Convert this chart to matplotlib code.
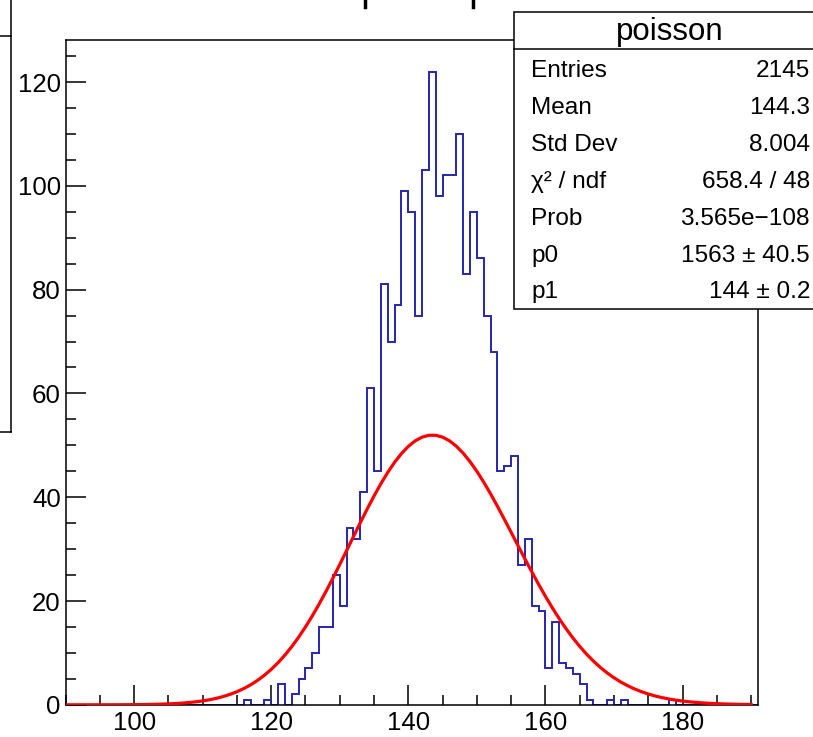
import numpy as np
import matplotlib.pyplot as plt
from matplotlib.ticker import MultipleLocator
from math import lgamma, log, exp

plt.rcParams['font.family'] = ['Liberation Sans', 'DejaVu Sans']

# histogramul "poisson": bini de latime 1, primul bin nenul incepe la 116
first_bin = 116
counts = [1, 0, 0, 1, 0, 4, 0, 2, 5, 7,
          10, 15, 15, 25, 19, 34, 32, 41, 61, 45,
          81, 70, 77, 99, 95, 75, 103, 122, 98, 102,
          102, 110, 83, 95, 86, 75, 68, 45, 46, 48,
          27, 32, 19, 18, 7, 16, 8, 7, 6, 4,
          1, 0, 0, 1, 0, 1, 0, 0, 0, 0,
          0, 0, 1]
x_min, x_max = 90, 191

# parametrii fitului p0 * Poisson(x, p1)
p0 = 1563
p1 = 144
fit_lo, fit_hi = 90, 190

stat_names = ['Entries', 'Mean', 'Std Dev', 'χ² / ndf', 'Prob', 'p0', 'p1']
stat_values = ['2145', '144.3', '8.004', '658.4 / 48', '3.565e\u2212108',
               '1563 \u00b1 40.5', '144 \u00b1 0.2']

W, H = 813, 737


def fx(px):
    return px / W


def fy(py):
    return 1 - py / H


edges = np.arange(x_min, x_max + 1)
values = np.zeros(len(edges) - 1)
values[first_bin - x_min:first_bin - x_min + len(counts)] = counts

xs = np.linspace(fit_lo, fit_hi, 101)
ys = np.array([p0 * exp(x * log(p1) - p1 - lgamma(x + 1)) for x in xs])

fig = plt.figure(figsize=(W / 100, H / 100), dpi=100)
ax = fig.add_axes([fx(65.5), fy(704.8), (758 - 65.5) / W, (704.8 - 40) / H])

ax.stairs(values, edges, color='#2626b0', linewidth=1.4, zorder=2)
ax.plot(xs, ys, color='#ff0000', linewidth=2.3, zorder=3)

ax.set_xlim(x_min, x_max)
ax.set_ylim(0, 1.05 * max(counts))
ax.set_xticks([100, 120, 140, 160, 180])
ax.set_yticks([0, 20, 40, 60, 80, 100, 120])
ax.xaxis.set_minor_locator(MultipleLocator(5))
ax.yaxis.set_minor_locator(MultipleLocator(5))
ax.tick_params(which='both', direction='in', top=False, right=False, width=1.1)
ax.tick_params(which='major', length=14.4, labelsize=18.6)
ax.tick_params(which='minor', length=7.2)
ax.tick_params(axis='x', pad=4.3)
ax.tick_params(axis='y', pad=3.4)
for s in ax.spines.values():
    s.set_linewidth(1.1)

# caseta de statistici (taiata la marginea din dreapta)
box = plt.Rectangle((fx(514), fy(309.3)), (826 - 514) / W, (309.3 - 11.7) / H,
                    transform=fig.transFigure, facecolor='white', edgecolor='black',
                    linewidth=1.1, zorder=5)
fig.add_artist(box)
fig.add_artist(plt.Line2D([fx(514), fx(826)], [fy(49), fy(49)], transform=fig.transFigure,
                          color='black', linewidth=1.1, zorder=6))
fig.text(fx(670), fy(40), 'poisson', ha='center', va='baseline', fontsize=22.5, zorder=7)
for i, (name, val) in enumerate(zip(stat_names, stat_values)):
    yb = fy(77.3 + i * 36.85)
    fig.text(fx(531), yb, name, ha='left', va='baseline', fontsize=17.6, zorder=7)
    fig.text(fx(810), yb, val, ha='right', va='baseline', fontsize=17.6, zorder=7)

# resturi din alte casete / titlu, taiate de marginea imaginii
fig.add_artist(plt.Line2D([fx(11), fx(11)], [fy(0), fy(432)], transform=fig.transFigure,
                          color='black', linewidth=1.1))
fig.add_artist(plt.Line2D([fx(0), fx(11)], [fy(35.7), fy(35.7)], transform=fig.transFigure,
                          color='black', linewidth=1.1))
fig.add_artist(plt.Line2D([fx(0), fx(11)], [fy(432), fy(432)], transform=fig.transFigure,
                          color='black', linewidth=1.1))
for px in [365, 473]:
    fig.add_artist(plt.Line2D([fx(px), fx(px)], [fy(0), fy(7)], transform=fig.transFigure,
                              color='black', linewidth=2.5))

plt.savefig('out.png', dpi=100)
